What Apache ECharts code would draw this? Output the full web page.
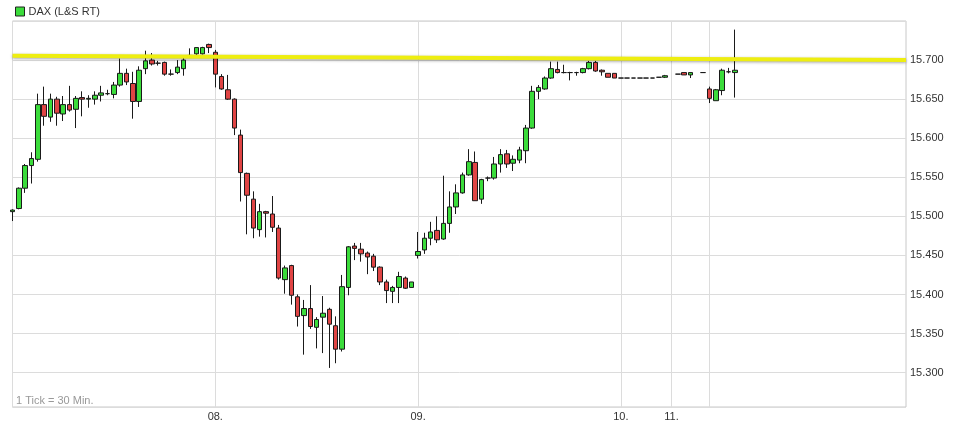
<!DOCTYPE html>
<html>
<head>
<meta charset="utf-8">
<script src="https://cdn.jsdelivr.net/npm/echarts@6/dist/echarts.min.js"></script>
<style>
  html, body { margin: 0; padding: 0; background: #fff; }
  #chart { width: 955px; height: 422px; }
</style>
</head>
<body>
<div id="chart"></div>
<script>
// ---- Data (each candle: [open, close, low, high]) ----
const seriesName = 'DAX (L&S RT)';
const tickNote = '1 Tick = 30 Min.';
const dayLabels = ['', '08.', '09.', '10.', '11.', ''];
const daySlots  = [32, 32, 32, 8, 6, 32];

const day07 = [
  [15506,15508,15494,15509],[15510,15536,15509,15537],[15536,15565,15530,15567],[15565,15574,15542,15582],
  [15573,15643,15570,15657],[15643,15628,15616,15666],[15627,15650,15621,15657],[15650,15632,15616,15653],
  [15631,15643,15622,15654],[15643,15636,15634,15667],[15637,15651,15613,15654],[15652,15650,15628,15660],
  [15650,15651,15639,15655],[15650,15655,15643,15660],[15655,15658,15647,15667],[15657,15657,15655,15662],
  [15656,15668,15651,15672],[15668,15683,15666,15702],[15683,15672,15668,15689],[15670,15647,15625,15685],
  [15647,15687,15640,15692],[15689,15699,15682,15712],[15700,15695,15693,15709],[15696,15696,15693,15699],
  [15697,15682,15680,15698],[15682,15682,15680,15688],[15684,15691,15682,15700],[15689,15700,15680,15704],
  [15705,15706,15703,15715],[15708,15716,15706,15716],[15708,15716,15707,15717],[15720,15716,15709,15721]
];
const day08 = [
  [15710,15682,15665,15713],[15679,15663,15662,15682],[15662,15650,15649,15681],[15650,15613,15604,15651],
  [15604,15556,15519,15611],[15555,15527,15477,15556],[15522,15485,15472,15532],[15483,15506,15474,15516],
  [15506,15504,15473,15507],[15503,15486,15480,15526],[15485,15421,15419,15489],[15419,15434,15401,15437],
  [15437,15399,15387,15438],[15397,15372,15359,15400],[15373,15382,15323,15393],[15382,15359,15356,15412],
  [15358,15368,15331,15371],[15371,15376,15325,15398],[15381,15362,15306,15383],[15360,15330,15312,15372],
  [15330,15410,15327,15425],[15409,15461,15399,15462],[15462,15459,15444,15466],[15458,15452,15442,15466],
  [15453,15448,15426,15455],[15449,15435,15430,15452],[15435,15416,15412,15436],[15416,15405,15389,15419],
  [15404,15409,15389,15411],[15409,15423,15389,15429],[15421,15408,15407,15423],[15409,15416,15409,15416]
];
const day09 = [
  [15450,15455,15446,15480],[15457,15472,15452,15479],[15472,15480,15463,15493],[15482,15470,15466,15500],
  [15471,15491,15470,15552],[15491,15512,15479,15532],[15512,15530,15503,15541],[15530,15553,15529,15556],
  [15553,15570,15552,15586],[15569,15520,15520,15583],[15522,15547,15516,15548],[15549,15549,15545,15551],
  [15549,15567,15547,15576],[15567,15579,15556,15586],[15580,15567,15562,15585],[15568,15573,15558,15578],
  [15572,15585,15568,15589],[15584,15613,15568,15617],[15613,15660,15612,15667],[15660,15665,15650,15668],
  [15663,15677,15662,15679],[15677,15689,15676,15698],[15688,15684,15683,15698],[15684,15684,15683,15694],
  [15684,15684,15674,15685],[15684,15684,15680,15685],[15684,15689,15683,15690],[15689,15697,15688,15699],
  [15697,15686,15685,15699],[15687,15685,15680,15688],[15683,15678,15678,15683],[15683,15677,15677,15683]
];
const day10 = [
  [15677,15677,15677,15677],[15677,15677,15677,15677],[15677,15677,15677,15677],[15677,15677,15677,15677],
  [15677,15677,15677,15677],[15677,15677,15677,15677],[15678,15678,15678,15678],[15678,15680,15677,15681]
];
const day11 = [
  null,[15682,15682,15682,15682],[15684,15681,15681,15684],[15681,15684,15677,15684],null,[15684,15684,15684,15684]
];
const day12 = [
  [15663,15651,15645,15666],[15648,15662,15648,15663],[15661,15687,15655,15689],[15685,15685,15683,15690],
  [15684,15687,15652,15739]
];
const days = [day07, day08, day09, day10, day11, day12];

// Hand-drawn yellow trend line: value at first slot, value at last slot
const trendLine = [15705.5, 15700];

// Y axis range and tick step
const yMin = 15256, yMax = 15750, yStep = 50;
const yLabelMin = 15300, yLabelMax = 15700;

// ---- Build category axis & series data ----
const categories = [];
const dayStartIdx = {};
const candles = [];
daySlots.forEach((n, d) => {
  for (let s = 0; s < n; s++) {
    const key = d + ':' + s;
    if (s === 0) dayStartIdx[categories.length] = dayLabels[d];
    categories.push(key);
    const v = days[d][s];
    candles.push(v ? v : '-');
  }
});

const chart = echarts.init(document.getElementById('chart'), null, { renderer: 'canvas' });
const FONT = "'Liberation Sans', Arial, sans-serif";

chart.setOption({
  animation: false,
  backgroundColor: '#ffffff',
  textStyle: { fontFamily: FONT },
  legend: {
    left: 10, top: 1,
    itemWidth: 9, itemHeight: 9, itemGap: 10,
    selectedMode: false,
    textStyle: { color: '#333', fontSize: 11, fontFamily: FONT, padding: [1, 0, 0, -1] },
    data: [{ name: seriesName, icon: 'rect',
             itemStyle: { color: '#3bdc3b', borderColor: '#222', borderWidth: 1 } }]
  },
  graphic: [{
    type: 'text', left: 16, top: 395, silent: true,
    style: { text: tickNote, fill: '#999', font: "11px 'Liberation Sans', Arial, sans-serif" }
  }],
  grid: {
    left: 12.5, right: 49, top: 21, bottom: 15,
    show: true, borderColor: '#c8c8c8', borderWidth: 1
  },
  xAxis: {
    type: 'category',
    data: categories,
    boundaryGap: false,
    axisLine: { show: false },
    axisTick: { show: false },
    axisLabel: {
      interval: (i) => dayStartIdx[i] !== undefined,
      formatter: (v, i) => dayStartIdx[i] || '',
      color: '#333', fontSize: 11, fontFamily: FONT, margin: 4
    },
    splitLine: {
      show: true,
      interval: (i) => dayStartIdx[i] !== undefined,
      lineStyle: { color: '#dcdcdc', width: 1 }
    }
  },
  yAxis: {
    type: 'value',
    position: 'right',
    min: yMin, max: yMax,
    splitNumber: 10, minInterval: yStep, maxInterval: yStep,
    axisLine: { show: false },
    axisTick: { show: false },
    axisLabel: {
      color: '#333', fontSize: 11, fontFamily: FONT, margin: 4,
      formatter: (v) => (v % yStep === 0 && v >= yLabelMin && v <= yLabelMax)
        ? (v / 1000).toFixed(3) : ''
    },
    splitLine: { lineStyle: { color: '#dcdcdc', width: 1 } }
  },
  series: [{
    name: seriesName,
    type: 'candlestick',
    data: candles,
    barWidth: 5,
    itemStyle: {
      color: '#3bdc3b', color0: '#e04444',
      borderColor: '#1a1a1a', borderColor0: '#1a1a1a',
      borderWidth: 1
    },
    markLine: {
      silent: true,
      symbol: ['none', 'none'],
      label: { show: false },
      emphasis: { disabled: true },
      lineStyle: {
        color: '#eeee10', width: 4, type: 'solid',
        shadowColor: 'rgba(0,0,0,0.35)', shadowBlur: 3, shadowOffsetY: 1
      },
      data: [[
        { coord: [categories[0], trendLine[0]] },
        { coord: [categories[categories.length - 1], trendLine[1]] }
      ]]
    }
  }]
});
</script>
</body>
</html>
